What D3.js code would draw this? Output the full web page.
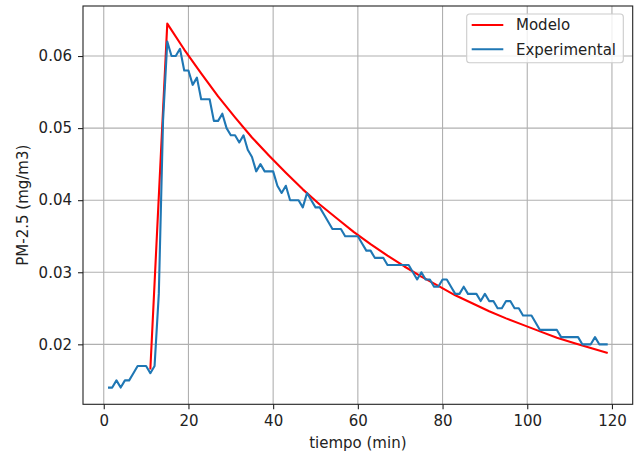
<!DOCTYPE html>
<html>
<head>
  <script src="https://d3js.org/d3.v7.min.js"></script>
  <style>
    body { margin: 0; background: #fff; }
    svg text { font-family: "DejaVu Sans", sans-serif; font-size: 15px; fill: #222; }
    .grid line { stroke: #b0b0b0; stroke-width: 1.1; }
  </style>
</head>
<body>
  <div id="chart"></div>
  <script>
    // Experimental readings, one per minute (1..119)
    const expMinutes = d3.range(1, 120);
    const expValues = [
      0.014, 0.014, 0.015, 0.014, 0.015, 0.015, 0.016, 0.017, 0.017, 0.017,
      0.016, 0.017, 0.027, 0.051, 0.062, 0.060, 0.060, 0.061, 0.058, 0.058,
      0.056, 0.057, 0.054, 0.054, 0.054, 0.051, 0.051, 0.052, 0.050, 0.049,
      0.049, 0.048, 0.049, 0.047, 0.046, 0.044, 0.045, 0.044, 0.044, 0.044,
      0.042, 0.041, 0.042, 0.040, 0.040, 0.040, 0.039, 0.041, 0.040, 0.039,
      0.039, 0.038, 0.037, 0.036, 0.036, 0.036, 0.035, 0.035, 0.035, 0.035,
      0.034, 0.033, 0.033, 0.032, 0.032, 0.032, 0.031, 0.031, 0.031, 0.031,
      0.031, 0.031, 0.030, 0.029, 0.030, 0.029, 0.029, 0.028, 0.028, 0.029,
      0.029, 0.028, 0.027, 0.027, 0.028, 0.027, 0.027, 0.027, 0.026, 0.027,
      0.026, 0.026, 0.025, 0.025, 0.026, 0.026, 0.025, 0.025, 0.024, 0.024,
      0.024, 0.023, 0.022, 0.022, 0.022, 0.022, 0.022, 0.021, 0.021, 0.021,
      0.021, 0.021, 0.020, 0.020, 0.020, 0.021, 0.020, 0.020, 0.020
    ];

    // Model curve
    const modelMinutes = [11, 15, 19, 23, 27, 31, 35, 39, 43, 47, 51, 55, 59, 63,
      67, 71, 75, 79, 83, 87, 91, 95, 99, 103, 107, 111, 115, 119];
    const modelValues = [0.0165, 0.0645, 0.0609, 0.0576, 0.0544, 0.0515, 0.0487,
      0.0462, 0.0438, 0.0415, 0.0394, 0.0375, 0.0356, 0.0339, 0.0323, 0.0308,
      0.0294, 0.0281, 0.0268, 0.0257, 0.0246, 0.0236, 0.0227, 0.0218, 0.0209,
      0.0202, 0.0195, 0.0188];

    const xTicks = [0, 20, 40, 60, 80, 100, 120];
    const yTicks = [0.02, 0.03, 0.04, 0.05, 0.06];
    const seriesNames = ["Modelo", "Experimental"];
    const seriesColors = ["#ff0000", "#1f77b4"];

    const margin = { top: 6, right: 11.3, bottom: 53.7, left: 83 };
    const width = 644 - margin.left - margin.right;
    const height = 458 - margin.top - margin.bottom;

    const svg = d3.select("#chart")
      .append("svg")
      .attr("width", 644)
      .attr("height", 458)
      .append("g")
      .attr("transform", "translate(" + margin.left + "," + margin.top + ")");

    const xScale = d3.scaleLinear().domain([-4.9, 124.9]).range([0, width]);
    const yScale = d3.scaleLinear().domain([0.01168, 0.06694]).range([height, 0]);

    // grid
    svg.append("g").attr("class", "grid")
      .selectAll("line").data(xTicks).enter().append("line")
      .attr("x1", d => xScale(d)).attr("x2", d => xScale(d))
      .attr("y1", 0).attr("y2", height);
    svg.append("g").attr("class", "grid")
      .selectAll("line").data(yTicks).enter().append("line")
      .attr("x1", 0).attr("x2", width)
      .attr("y1", d => yScale(d)).attr("y2", d => yScale(d));

    // lines
    const line = d3.line().x(d => xScale(d[0])).y(d => yScale(d[1]));
    const modelData = modelMinutes.map((m, i) => [m, modelValues[i]]);
    const expData = expMinutes.map((m, i) => [m, expValues[i]]);

    svg.append("path").datum(modelData)
      .attr("d", line).attr("fill", "none")
      .attr("stroke", seriesColors[0]).attr("stroke-width", 2.1)
      .attr("stroke-linejoin", "round");
    svg.append("path").datum(expData)
      .attr("d", line).attr("fill", "none")
      .attr("stroke", seriesColors[1]).attr("stroke-width", 2.1)
      .attr("stroke-linejoin", "round");

    // axes
    const xAxis = svg.append("g")
      .attr("transform", "translate(0," + height + ")")
      .call(d3.axisBottom(xScale).tickValues(xTicks).tickSize(5).tickPadding(6));
    const yAxis = svg.append("g")
      .call(d3.axisLeft(yScale).tickValues(yTicks).tickFormat(d3.format(".2f")).tickSize(5).tickPadding(6));
    [xAxis, yAxis].forEach(a => {
      a.select(".domain").remove();
      a.selectAll(".tick line").attr("stroke", "#222").attr("stroke-width", 1.1);
      a.selectAll("text").style("font-size", "15px").attr("fill", "#222");
    });

    // frame
    svg.append("rect")
      .attr("width", width).attr("height", height)
      .attr("fill", "none").attr("stroke", "#222").attr("stroke-width", 1.1);

    // axis labels
    svg.append("text")
      .attr("x", width / 2).attr("y", height + 44)
      .attr("text-anchor", "middle")
      .text("tiempo (min)");
    svg.append("text")
      .attr("transform", "rotate(-90)")
      .attr("x", -height / 2).attr("y", 28 - margin.left)
      .attr("text-anchor", "middle")
      .text("PM-2.5 (mg/m3)");

    // legend
    const legend = svg.append("g").attr("transform", "translate(" + (466.7 - margin.left) + "," + (14 - margin.top) + ")");
    legend.append("rect")
      .attr("width", 156.6).attr("height", 48.7).attr("rx", 3)
      .attr("fill", "#fff").attr("fill-opacity", 0.8)
      .attr("stroke", "#cccccc").attr("stroke-width", 1.1);
    seriesNames.forEach((name, i) => {
      const yy = 11 + i * 24.3;
      legend.append("line")
        .attr("x1", 5).attr("x2", 36.6).attr("y1", yy).attr("y2", yy)
        .attr("stroke", seriesColors[i]).attr("stroke-width", 2.1);
      legend.append("text")
        .attr("x", 49.3).attr("y", yy).attr("dy", "0.35em")
        .text(name);
    });
  </script>
</body>
</html>
